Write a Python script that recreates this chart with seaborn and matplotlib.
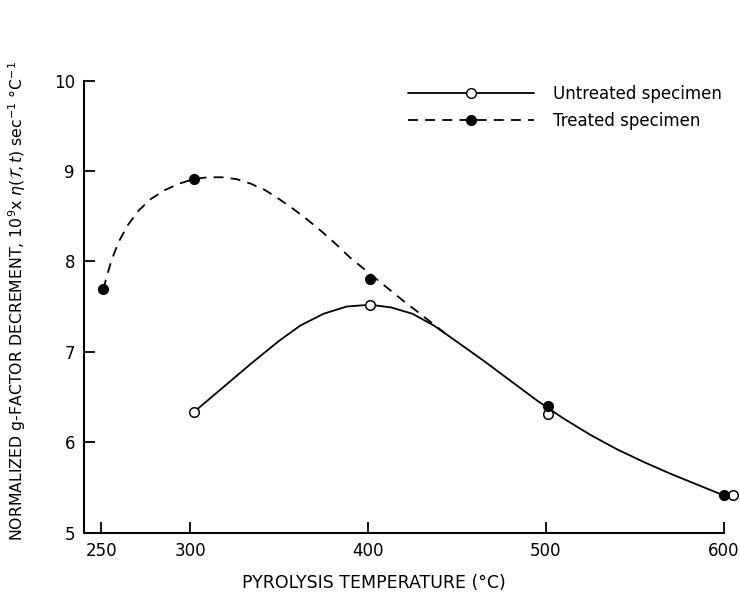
import numpy as np
import seaborn as sns
import matplotlib.pyplot as plt
import pandas as pd
from matplotlib.lines import Line2D

# measured points
temp_treated = [251, 302, 401, 501, 600]
gfac_treated = [7.69, 8.91, 7.80, 6.40, 5.41]
temp_untreated = [302, 401, 501, 605]
gfac_untreated = [6.33, 7.52, 6.31, 5.41]

# hand-drawn smooth curves
curve_treated_t = [251.3, 253, 256, 260, 265, 271, 278, 286, 294, 302, 310, 318, 326, 334,
                   342, 350, 358, 366, 374, 382, 390, 400, 410, 420, 430, 437, 443]
curve_treated_g = [7.69, 7.82, 8.02, 8.22, 8.40, 8.56, 8.69, 8.79, 8.86, 8.91, 8.93, 8.93,
                   8.91, 8.86, 8.79, 8.69, 8.58, 8.46, 8.33, 8.19, 8.04, 7.88, 7.72, 7.56,
                   7.41, 7.30, 7.21]
curve_untreated_t = [302, 320, 335, 350, 362, 375, 388, 401, 413, 425, 437, 450, 465, 480,
                     495, 510, 525, 540, 555, 570, 585, 600]
curve_untreated_g = [6.33, 6.63, 6.88, 7.12, 7.29, 7.42, 7.50, 7.52, 7.49, 7.42, 7.29, 7.11,
                     6.90, 6.68, 6.46, 6.26, 6.08, 5.92, 5.78, 5.65, 5.53, 5.41]

x_ticks = [250, 300, 400, 500, 600]
y_ticks = [5, 6, 7, 8, 9, 10]

LBL_U = 'Untreated specimen'
LBL_T = 'Treated specimen'

pts_t = pd.DataFrame({'T': temp_treated, 'g': gfac_treated})
pts_u = pd.DataFrame({'T': temp_untreated, 'g': gfac_untreated})
crv_t = pd.DataFrame({'T': curve_treated_t, 'g': curve_treated_g})
crv_u = pd.DataFrame({'T': curve_untreated_t, 'g': curve_untreated_g})

sns.set_theme(style='ticks')
plt.rcParams['font.family'] = ['DejaVu Sans']
plt.rcParams['text.color'] = 'black'
plt.rcParams['axes.labelcolor'] = 'black'

fig = plt.figure(figsize=(7.4, 6.02), dpi=100)
ax = fig.add_axes([0.1135, 0.1154, 0.884, 0.7508])

DASH = (0, (5.5, 4))
LW = 1.3

sns.lineplot(data=crv_u, x='T', y='g', color='black', linewidth=LW,
             sort=False, estimator=None, ax=ax)
sns.lineplot(data=crv_t, x='T', y='g', color='black', linewidth=LW,
             sort=False, estimator=None, ax=ax)
ax.get_lines()[1].set_linestyle(DASH)
for ln in ax.get_lines():
    ln.set_solid_joinstyle('round')
    ln.set_dash_joinstyle('round')

sns.scatterplot(data=pts_u, x='T', y='g', s=48, color='white', edgecolor='black',
                linewidth=1.1, zorder=5, clip_on=False, ax=ax)
sns.scatterplot(data=pts_t, x='T', y='g', s=52, color='black', edgecolor='black',
                linewidth=0.8, zorder=6, clip_on=False, ax=ax)

ax.set_xlim(240.4, 608)
ax.set_ylim(5, 10)
ax.set_xticks(x_ticks)
ax.set_yticks(y_ticks)
ax.spines['bottom'].set_bounds(240.4, 600)
for s in ['top', 'right']:
    ax.spines[s].set_visible(False)
for s in ['left', 'bottom']:
    ax.spines[s].set_linewidth(1.5)
    ax.spines[s].set_color('black')
ax.tick_params(direction='in', length=8, width=1.3, colors='black', labelsize=12)
ax.tick_params(axis='y', pad=6.5)
ax.tick_params(axis='x', pad=7)

ax.set_xlabel('PYROLYSIS TEMPERATURE (°C)', fontsize=12.5)
ax.xaxis.set_label_coords(0.443, -0.092)
ax.set_ylabel(r'NORMALIZED g-FACTOR DECREMENT, 10$^9$x $\eta(\mathcal{T},t)$ sec$^{-1}$ °C$^{-1}$',
              fontsize=11.3)
ax.yaxis.set_label_coords(-0.086, 0.512)

handles = [
    Line2D([], [], color='black', lw=LW, marker='o', markersize=7,
           markerfacecolor='white', markeredgecolor='black'),
    Line2D([], [], color='black', lw=LW, ls=DASH, marker='o', markersize=7,
           markerfacecolor='black', markeredgecolor='black'),
]
ax.legend(handles, [LBL_U, LBL_T], loc='upper left', bbox_to_anchor=(0.495, 0.99),
          frameon=False, handlelength=7.6, handletextpad=1.1, borderpad=0,
          borderaxespad=0, labelspacing=0.55, fontsize=12, numpoints=1)

plt.savefig('out.png', dpi=100)
